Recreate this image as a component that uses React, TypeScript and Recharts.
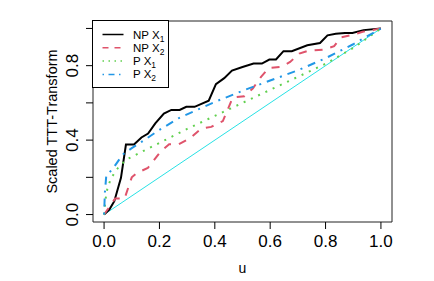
import { LineChart, Line, XAxis, YAxis, ReferenceArea, Label } from 'recharts';

const npX1U = [0, 0.019, 0.037, 0.061, 0.079, 0.108, 0.135, 0.159, 0.185, 0.216, 0.243, 0.273, 0.297, 0.327, 0.378, 0.404, 0.434, 0.462, 0.5, 0.54, 0.57, 0.597, 0.621, 0.648, 0.678, 0.734, 0.78, 0.807, 0.837, 0.87, 0.897, 0.937, 1];
const npX1V = [0, 0.027, 0.072, 0.197, 0.376, 0.376, 0.414, 0.435, 0.49, 0.543, 0.562, 0.562, 0.579, 0.579, 0.612, 0.701, 0.733, 0.774, 0.793, 0.811, 0.811, 0.833, 0.833, 0.878, 0.878, 0.91, 0.922, 0.963, 0.971, 0.976, 0.976, 0.991, 1];

const npX2U = [0, 0.04, 0.074, 0.1, 0.12, 0.158, 0.205, 0.235, 0.27, 0.31, 0.351, 0.387, 0.429, 0.465, 0.507, 0.537, 0.567, 0.595, 0.64, 0.672, 0.705, 0.735, 0.797, 0.831, 0.855, 0.896, 0.934, 1];
const npX2V = [0, 0.086, 0.086, 0.2, 0.225, 0.25, 0.34, 0.378, 0.378, 0.41, 0.462, 0.471, 0.502, 0.629, 0.636, 0.677, 0.74, 0.788, 0.794, 0.82, 0.865, 0.879, 0.887, 0.905, 0.952, 0.965, 0.982, 1];

const pX1U = [0, 0.005, 0.012, 0.025, 0.05, 0.08, 0.14, 0.2, 0.3, 0.4, 0.5, 0.6, 0.7, 0.8, 0.9, 1];
const pX1V = [0, 0.08, 0.14, 0.195, 0.25, 0.295, 0.34, 0.385, 0.46, 0.53, 0.6, 0.67, 0.74, 0.81, 0.895, 1];

const pX2U = [0, 0.003, 0.008, 0.03, 0.067, 0.1, 0.15, 0.2, 0.272, 0.4, 0.5, 0.6, 0.7, 0.8, 0.9, 1];
const pX2V = [0, 0.12, 0.21, 0.243, 0.322, 0.357, 0.405, 0.455, 0.52, 0.605, 0.665, 0.72, 0.775, 0.84, 0.915, 1];

const diagU = [0, 1];
const diagV = [0, 1];

const xTicks = [0, 0.2, 0.4, 0.6, 0.8, 1];
const yTicks = [0, 0.2, 0.4, 0.6, 0.8, 1];
const yLabelled = [0, 0.4, 0.8];

const zip = (u: number[], v: number[]) => u.map((x, i) => ({ u: x, v: v[i] }));

const FONT = '"Liberation Sans", Arial, Helvetica, sans-serif';

const series = [
  { name: 'NP', sub: '1', data: zip(npX1U, npX1V), color: '#000000', dash: undefined, legendDash: undefined },
  { name: 'NP', sub: '2', data: zip(npX2U, npX2V), color: '#DF536B', dash: '8 8', legendDash: '6 6' },
  { name: 'P', sub: '1', data: zip(pX1U, pX1V), color: '#61D04F', dash: '2 6', legendDash: '1.5 4.5' },
  { name: 'P', sub: '2', data: zip(pX2U, pX2V), color: '#2297E6', dash: '2 6 8 6', legendDash: '1.5 4.5 6 4.5' },
];

const XTick = (props: any) => {
  const { x, y, payload } = props;
  return (
    <text x={x} y={y + 16} textAnchor="middle" fontSize={17} fontFamily={FONT} fill="#000">
      {payload.value.toFixed(1)}
    </text>
  );
};

const YTick = (props: any) => {
  const { x, y, payload } = props;
  if (!yLabelled.includes(payload.value)) return <g />;
  const tx = x - 6;
  return (
    <text x={tx} y={y} transform={`rotate(-90, ${tx}, ${y})`} textAnchor="middle" fontSize={17} fontFamily={FONT} fill="#000">
      {payload.value.toFixed(1)}
    </text>
  );
};

function LegendBox() {
  return (
    <svg width={77} height={68} style={{ position: 'absolute', left: 92, top: 20 }}>
      <rect x={0.5} y={0.5} width={76} height={67} fill="#fff" stroke="#000" strokeWidth={1} />
      {series.map((s, i) => {
        const cy = 14.5 + i * 13.3;
        return (
          <g key={i}>
            <line x1={10.5} x2={31.5} y1={cy} y2={cy} stroke={s.color} strokeWidth={1.5} strokeDasharray={s.legendDash} />
            <text x={41} y={cy + 4} fontSize={11.5} fontFamily={FONT} fill="#000">
              {s.name} X
              <tspan fontSize={8.5} dy={3}>{s.sub}</tspan>
            </text>
          </g>
        );
      })}
    </svg>
  );
}

export default function App() {
  return (
    <div style={{ position: 'absolute', left: 0, top: 0, width: 434, height: 281, background: '#fff', fontFamily: FONT }}>
      <LineChart width={434} height={281} margin={{ top: 21, right: 42, bottom: 0, left: 0 }}>
        <XAxis
          type="number"
          dataKey="u"
          domain={[-0.04, 1.04]}
          ticks={xTicks}
          allowDataOverflow
          axisLine={false}
          tickSize={7}
          tickLine={{ stroke: '#000' }}
          tick={<XTick />}
          height={59}
        >
          <Label
            content={() => (
              <text x={242.5} y={272.5} textAnchor="middle" fontSize={14} fontFamily={FONT} fill="#000">
                u
              </text>
            )}
          />
        </XAxis>
        <YAxis
          type="number"
          dataKey="v"
          domain={[-0.04, 1.04]}
          ticks={yTicks}
          allowDataOverflow
          axisLine={false}
          tickSize={7}
          tickLine={{ stroke: '#000' }}
          tick={<YTick />}
          width={93}
        >
          <Label
            content={() => (
              <text x={56.5} y={121.5} transform="rotate(-90, 56.5, 121.5)" textAnchor="middle" fontSize={14.5} fontFamily={FONT} fill="#000">
                Scaled TTT-Transform
              </text>
            )}
          />
        </YAxis>
        <ReferenceArea x1={-0.04} x2={1.04} y1={-0.04} y2={1.04} fill="none" stroke="#222" strokeWidth={1} />
        <Line data={zip(diagU, diagV)} dataKey="v" type="linear" stroke="#28E2E5" strokeWidth={1} dot={false} isAnimationActive={false} />
        {series.map((s, i) => (
          <Line
            key={i}
            data={s.data}
            dataKey="v"
            type="linear"
            stroke={s.color}
            strokeWidth={2}
            strokeDasharray={s.dash}
            dot={false}
            isAnimationActive={false}
          />
        ))}
      </LineChart>
      <LegendBox />
    </div>
  );
}
